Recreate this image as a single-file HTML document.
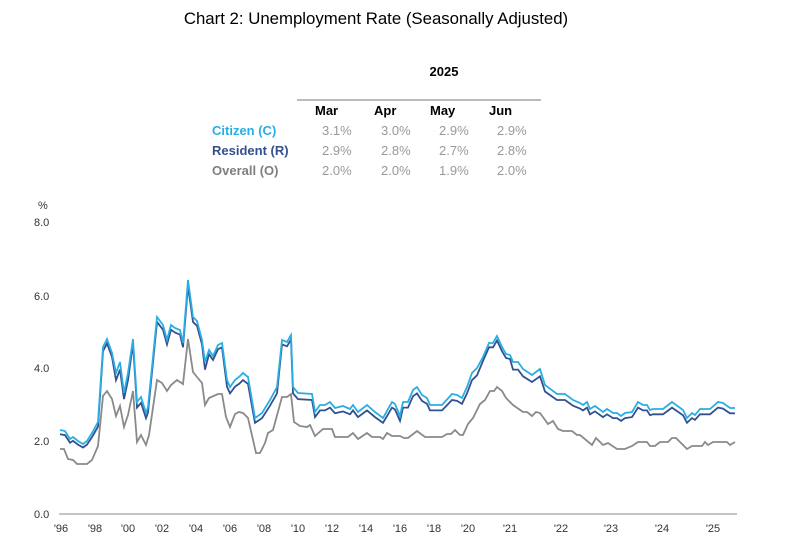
<!DOCTYPE html>
<html><head><meta charset="utf-8"><style>
body{margin:0;background:#fff;width:787px;height:544px;overflow:hidden;font-family:"Liberation Sans",Arial,sans-serif}
svg{position:absolute;left:0;top:0}
</style></head><body>
<svg width="787" height="544" viewBox="0 0 787 544" id="s">
<text x="376" y="24" text-anchor="middle" font-size="16.8" fill="#000">Chart 2: Unemployment Rate (Seasonally Adjusted)</text>
<text x="444" y="76" text-anchor="middle" font-size="13" font-weight="bold" fill="#000">2025</text>
<line x1="297" y1="100" x2="541" y2="100" stroke="#777" stroke-width="1"/>
<g font-size="13" font-weight="bold" fill="#000">
<text x="315" y="115">Mar</text><text x="374" y="115">Apr</text><text x="430" y="115">May</text><text x="489" y="115">Jun</text></g>
<g font-size="13" font-weight="bold">
<text x="212" y="135" fill="#29aee4">Citizen (C)</text>
<text x="212" y="155" fill="#33508f">Resident (R)</text>
<text x="212" y="175" fill="#7f7f7f">Overall (O)</text></g>
<g font-size="13" fill="#999">
<text x="322" y="135">3.1%</text><text x="381" y="135">3.0%</text><text x="439" y="135">2.9%</text><text x="497" y="135">2.9%</text>
<text x="322" y="155">2.9%</text><text x="381" y="155">2.8%</text><text x="439" y="155">2.7%</text><text x="497" y="155">2.8%</text>
<text x="322" y="175">2.0%</text><text x="381" y="175">2.0%</text><text x="439" y="175">1.9%</text><text x="497" y="175">2.0%</text></g>
<g font-size="11" fill="#333">
<text x="38" y="209">%</text>
<text x="34" y="226">8.0</text><text x="34" y="300">6.0</text><text x="34" y="372">4.0</text><text x="34" y="445">2.0</text><text x="34" y="518">0.0</text></g>
<line x1="59" y1="514" x2="737" y2="514" stroke="#888" stroke-width="1"/>
<g font-size="11" fill="#333" text-anchor="middle">
<text x="61" y="532">'96</text><text x="95" y="532">'98</text><text x="128" y="532">'00</text><text x="162" y="532">'02</text><text x="196" y="532">'04</text><text x="230" y="532">'06</text><text x="264" y="532">'08</text><text x="298" y="532">'10</text><text x="332" y="532">'12</text><text x="366" y="532">'14</text><text x="400" y="532">'16</text><text x="434" y="532">'18</text><text x="468" y="532">'20</text><text x="510" y="532">'21</text><text x="561" y="532">'22</text><text x="611" y="532">'23</text><text x="662" y="532">'24</text><text x="713" y="532">'25</text></g>
<polyline id="o" fill="none" stroke="#8a8a8a" stroke-width="1.8" points="60,449 64,449 68,459 73,460 77,464 87,464 92,460 98,446 103,396 107,391 112,399 116,416 120,406 124,427 128,415 133,391 137,442 141,435 146,445 149,435 157,380 162,383 167,391 171,385 177,380 183,384 188,339 193,372 197,377 202,383 205,405 209,398 218,394 222,394 226,417 230,427 235,414 239,412 243,413 248,418 256,453 260,453 265,443 268,433 273,430 282,397 287,397 291,394 294,422 300,426 307,427 310,425 315,436 323,429 332,429 335,437 348,437 353,433 358,439 367,433 372,437 380,437 383,439 387,433 392,436 400,436 404,438 408,438 417,431 425,437 442,437 447,434 451,434 455,430 460,435 463,435 468,424 473,418 480,404 485,400 490,391 494,391 497,387 502,391 506,398 513,405 523,412 527,412 532,416 536,412 540,413 548,424 553,421 558,429 563,431 572,431 577,435 580,435 592,445 596,438 603,445 608,443 617,449 625,449 632,446 638,442 647,442 650,446 655,446 660,442 668,442 672,438 676,438 687,449 692,446 702,446 705,442 708,445 713,442 727,442 730,445 735,442"/>
<polyline id="r" fill="none" stroke="#33508f" stroke-width="1.8"/>
<polyline id="c" fill="none" stroke="#29aee4" stroke-width="1.8" points="60,430 65,431 70,439 73,437 78,441 83,444 87,441 92,433 98,422 103,347 107,339 112,353 116,373 120,362 124,393 128,373 133,339 137,402 141,397 146,413 148,407 157,317 163,325 167,340 171,325 175,328 180,330 183,343 188,280 193,317 197,321 202,340 205,362 209,350 213,356 218,345 222,343 227,380 230,387 235,380 239,377 243,373 248,377 255,418 262,413 270,400 277,387 282,340 287,342 291,335 293,387 298,393 312,394 315,412 320,405 325,405 330,402 335,408 343,406 350,409 353,405 358,412 367,405 375,412 383,418 392,402 395,404 400,416 403,402 408,402 413,390 417,387 422,395 427,398 430,405 442,405 452,394 457,395 462,398 467,387 472,373 477,368 483,357 489,343 493,343 497,336 502,347 506,354 510,355 513,362 518,362 523,369 532,375 540,369 545,385 557,394 565,394 573,400 580,403 583,405 587,402 590,409 595,406 603,412 607,409 613,413 617,413 621,416 625,413 632,412 638,402 643,405 647,405 650,410 653,409 663,409 672,402 683,410 687,418 692,413 695,415 700,409 710,409 718,402 723,403 730,408 735,408"/>
</svg>
<script>
var c=document.getElementById('c').getAttribute('points').trim().split(/\s+/);
var r=c.map(function(p){var a=p.split(',');var y=+a[1];var v=(514-y)/36.5;var f=v>4.3?0.975:0.95;return a[0]+','+(514-v*f*36.5).toFixed(1);});
document.getElementById('r').setAttribute('points',r.join(' '));
</script>
</body></html>
